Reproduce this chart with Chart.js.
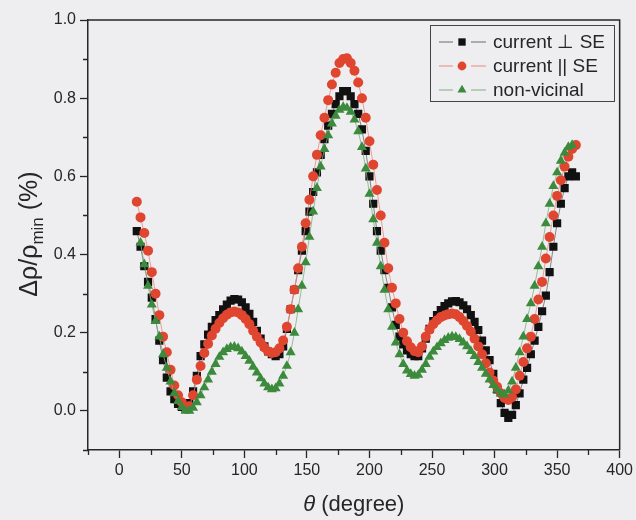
<!DOCTYPE html>
<html>
<head>
<meta charset="utf-8">
<script src="https://cdn.jsdelivr.net/npm/chart.js@4/dist/chart.umd.min.js"></script>
<style>
  html, body { margin: 0; padding: 0; background: #eeeef1; }
  #wrap { width: 636px; height: 520px; position: relative; }
</style>
</head>
<body>
<div id="wrap"><canvas id="c" width="636" height="520"></canvas></div>
<script>
// Rotation angle of the magnetic field (degree)
const theta = [
  14, 17, 20, 23, 26, 29, 32, 35, 38, 41,
  44, 47, 50, 53, 56, 59, 62, 65, 68, 71,
  74, 77, 80, 83, 86, 89, 92, 95, 98, 101,
  104, 107, 110, 113, 116, 119, 122, 125, 128, 131,
  134, 137, 140, 143, 146, 149, 152, 155, 158, 161,
  164, 167, 170, 173, 176, 179, 182, 185, 188, 191,
  194, 197, 200, 203, 206, 209, 212, 215, 218, 221,
  224, 227, 230, 233, 236, 239, 242, 245, 248, 251,
  254, 257, 260, 263, 266, 269, 272, 275, 278, 281,
  284, 287, 290, 293, 296, 299, 302, 305, 308, 311,
  314, 317, 320, 323, 326, 329, 332, 335, 338, 341,
  344, 347, 350, 353, 356, 359, 362, 365
];

// Δρ/ρmin (%) — current perpendicular to the step edges
const perpSE = [
  0.46, 0.42, 0.37, 0.33, 0.29, 0.235, 0.18, 0.13, 0.085, 0.05,
  0.03, 0.018, 0.01, 0.005, 0.02, 0.05, 0.09, 0.14, 0.17, 0.195,
  0.215, 0.232, 0.245, 0.26, 0.272, 0.282, 0.286, 0.285, 0.278, 0.265,
  0.248, 0.228, 0.205, 0.185, 0.165, 0.152, 0.145, 0.14, 0.145, 0.165,
  0.21, 0.26, 0.31, 0.36, 0.41, 0.46, 0.51, 0.56, 0.61, 0.655,
  0.695, 0.73, 0.76, 0.785, 0.805, 0.818, 0.818, 0.805, 0.785, 0.76,
  0.72, 0.665, 0.60, 0.53, 0.46, 0.41, 0.36, 0.315, 0.265, 0.22,
  0.19, 0.17, 0.155, 0.145, 0.14, 0.14, 0.16, 0.185, 0.21, 0.23,
  0.245, 0.258, 0.268, 0.275, 0.28, 0.281, 0.278, 0.27, 0.26, 0.245,
  0.228, 0.207, 0.18, 0.155, 0.13, 0.095, 0.055, 0.02, -0.005, -0.018,
  -0.01, 0.015, 0.045, 0.08, 0.11, 0.145, 0.18, 0.215, 0.255, 0.295,
  0.355, 0.42, 0.48, 0.53, 0.57, 0.60, 0.61, 0.60
];

// Δρ/ρmin (%) — current parallel to the step edges
const paraSE = [
  0.535, 0.495, 0.455, 0.41, 0.355, 0.30, 0.245, 0.19, 0.15, 0.105,
  0.065, 0.04, 0.022, 0.01, 0.012, 0.04, 0.08, 0.115, 0.148, 0.172,
  0.193, 0.21, 0.225, 0.237, 0.246, 0.252, 0.254, 0.252, 0.245, 0.235,
  0.222, 0.205, 0.19, 0.175, 0.162, 0.152, 0.148, 0.15, 0.16, 0.18,
  0.215, 0.26, 0.31, 0.365, 0.42, 0.48, 0.54, 0.60, 0.655, 0.705,
  0.75, 0.795, 0.835, 0.865, 0.89, 0.90, 0.902, 0.89, 0.87, 0.84,
  0.80, 0.75, 0.69, 0.63, 0.565, 0.50, 0.43, 0.365, 0.315, 0.275,
  0.235, 0.20, 0.178, 0.163, 0.153, 0.15, 0.165, 0.19, 0.208, 0.222,
  0.232, 0.24, 0.244, 0.247, 0.249, 0.247, 0.24, 0.23, 0.217, 0.203,
  0.185, 0.165, 0.145, 0.122, 0.098, 0.078, 0.062, 0.045, 0.033, 0.028,
  0.035, 0.055, 0.09, 0.125, 0.16, 0.19, 0.235, 0.285, 0.33, 0.39,
  0.445, 0.50, 0.55, 0.59, 0.625, 0.65, 0.67, 0.68
];

// Δρ/ρmin (%) — non-vicinal reference sample
const nonVicinal = [
  null, 0.43, 0.375, 0.32, 0.272, 0.23, 0.19, 0.145, 0.11, 0.075,
  0.045, 0.025, 0.01, 0.0, 0.0, 0.008, 0.022, 0.04, 0.06, 0.08,
  0.10, 0.12, 0.138, 0.15, 0.158, 0.163, 0.164, 0.16, 0.152, 0.14,
  0.128, 0.113, 0.098, 0.083, 0.07, 0.06, 0.055, 0.058, 0.07, 0.09,
  0.115, 0.15, 0.2, 0.26, 0.32, 0.38, 0.445, 0.51, 0.57, 0.625,
  0.67, 0.705, 0.735, 0.755, 0.77, 0.777, 0.775, 0.765, 0.745, 0.715,
  0.675, 0.62, 0.555, 0.49, 0.43, 0.37, 0.31, 0.26, 0.215, 0.175,
  0.145, 0.12, 0.103, 0.094, 0.09, 0.092, 0.105, 0.12, 0.138, 0.152,
  0.163, 0.173, 0.181, 0.187, 0.19, 0.189, 0.184, 0.175, 0.165, 0.153,
  0.14, 0.125, 0.11, 0.095, 0.08, 0.066, 0.054, 0.044, 0.042, 0.052,
  0.075, 0.11, 0.15, 0.19, 0.235, 0.275, 0.32, 0.37, 0.42, 0.48,
  0.53, 0.575, 0.61, 0.64, 0.66, 0.675, 0.68, null
];

const seriesLabels = ['current \u22A5 SE', 'current || SE', 'non-vicinal'];

const xMajorTicks = [0, 50, 100, 150, 200, 250, 300, 350, 400];
const xMinorTicks = [-25, 25, 75, 125, 175, 225, 275, 325, 375];
const yMajorTicks = [0.0, 0.2, 0.4, 0.6, 0.8, 1.0];
const yMinorTicks = [-0.1, 0.1, 0.3, 0.5, 0.7, 0.9];

const FONT = '"Liberation Sans", Arial, Helvetica, sans-serif';
const INK = '#262626';

function toPoints(values) {
  return theta.map((t, i) => ({ x: t, y: values[i] }));
}

// frame, minor ticks, legend box and axis titles
const decorations = {
  id: 'decorations',
  afterDraw(chart) {
    const ctx = chart.ctx;
    const a = chart.chartArea;
    const xs = chart.scales.x, ys = chart.scales.y;
    ctx.save();
    ctx.strokeStyle = INK;
    ctx.lineWidth = 1.5;
    // top and right edges of the frame
    ctx.beginPath();
    ctx.moveTo(a.left, a.top); ctx.lineTo(a.right, a.top); ctx.lineTo(a.right, a.bottom);
    ctx.stroke();
    // minor ticks
    ctx.lineWidth = 1.3;
    ctx.beginPath();
    xMinorTicks.forEach(v => {
      const px = Math.round(xs.getPixelForValue(v)) + 0.5;
      ctx.moveTo(px, a.bottom); ctx.lineTo(px, a.bottom + 5);
    });
    yMinorTicks.forEach(v => {
      const py = Math.round(ys.getPixelForValue(v)) + 0.5;
      ctx.moveTo(a.left - 5, py); ctx.lineTo(a.left, py);
    });
    ctx.stroke();

    // legend
    const box = { x: 430.5, y: 25.5, w: 184, h: 76 };
    ctx.lineWidth = 1;
    ctx.strokeStyle = '#444';
    ctx.strokeRect(box.x, box.y, box.w, box.h);
    const rowY = [42, 66, 90];
    chart.data.datasets.forEach((ds, i) => {
      const y = rowY[i];
      ctx.strokeStyle = ds.borderColor;
      ctx.lineWidth = 1;
      ctx.beginPath();
      ctx.moveTo(439, y); ctx.lineTo(453, y);
      ctx.moveTo(471, y); ctx.lineTo(486, y);
      ctx.stroke();
      ctx.fillStyle = ds.pointBackgroundColor;
      ctx.strokeStyle = ds.pointBackgroundColor;
      Chart.helpers.drawPoint(ctx, {
        pointStyle: ds.pointStyle, radius: ds.pointRadius - 0.6, rotation: 0, borderWidth: 0
      }, 462, y);
      ctx.fillStyle = INK;
      ctx.font = '19px ' + FONT;
      ctx.textAlign = 'left';
      ctx.textBaseline = 'middle';
      ctx.fillText(ds.label, 493, y + 1);
    });

    // x-axis title: θ (degree)
    ctx.fillStyle = INK;
    ctx.textBaseline = 'alphabetic';
    ctx.textAlign = 'left';
    const xt1 = '\u03B8', xt2 = ' (degree)';
    ctx.font = 'italic 22px ' + FONT;
    const w1 = ctx.measureText(xt1).width;
    ctx.font = '22px ' + FONT;
    const w2 = ctx.measureText(xt2).width;
    const cx = (a.left + a.right) / 2;
    let x0 = cx - (w1 + w2) / 2;
    ctx.font = 'italic 22px ' + FONT;
    ctx.fillText(xt1, x0, 511);
    ctx.font = '22px ' + FONT;
    ctx.fillText(xt2, x0 + w1, 511);

    // y-axis title: Δρ/ρmin (%)
    const p1 = '\u0394\u03C1/\u03C1', sub = 'min', p3 = ' (%)';
    ctx.font = '25px ' + FONT;
    const m1 = ctx.measureText(p1).width, m3 = ctx.measureText(p3).width;
    ctx.font = '17px ' + FONT;
    const m2 = ctx.measureText(sub).width;
    const total = m1 + m2 + m3;
    ctx.translate(37, 234);
    ctx.rotate(-Math.PI / 2);
    let s = -total / 2;
    ctx.font = '25px ' + FONT;
    ctx.fillText(p1, s, 0);
    ctx.font = '17px ' + FONT;
    ctx.fillText(sub, s + m1, 6);
    ctx.font = '25px ' + FONT;
    ctx.fillText(p3, s + m1 + m2, 0);
    ctx.restore();
  }
};

const tickFont = { family: FONT, size: 16 };

new Chart(document.getElementById('c'), {
  type: 'line',
  data: {
    datasets: [
      {
        label: seriesLabels[0],
        data: toPoints(perpSE),
        borderColor: '#6a6a6a',
        borderWidth: 0.8,
        pointStyle: 'rect',
        pointRadius: 5.8,
        pointBorderWidth: 0,
        pointBackgroundColor: '#111111',
        pointBorderColor: '#111111',
        order: 3
      },
      {
        label: seriesLabels[1],
        data: toPoints(paraSE),
        borderColor: '#e58a7c',
        borderWidth: 0.8,
        pointStyle: 'circle',
        pointRadius: 5,
        pointBorderWidth: 0,
        pointBackgroundColor: '#e0462f',
        pointBorderColor: '#e0462f',
        order: 2
      },
      {
        label: seriesLabels[2],
        data: toPoints(nonVicinal),
        borderColor: '#7fae7f',
        borderWidth: 0.8,
        pointStyle: 'triangle',
        pointRadius: 5.8,
        pointBorderWidth: 0,
        pointBackgroundColor: '#3c8a3c',
        pointBorderColor: '#3c8a3c',
        order: 1
      }
    ]
  },
  options: {
    responsive: false,
    animation: false,
    events: [],
    layout: { padding: { top: 20, right: 14, left: 0, bottom: 0 } },
    plugins: { legend: { display: false }, tooltip: { enabled: false } },
    scales: {
      x: {
        type: 'linear',
        min: -25,
        max: 400,
        afterBuildTicks: ax => { ax.ticks = xMajorTicks.map(v => ({ value: v })); },
        afterFit: ax => { ax.height = 70; },
        ticks: { font: tickFont, color: INK, padding: 3, maxRotation: 0, autoSkip: false,
                 callback: v => String(v) },
        grid: { drawOnChartArea: false, drawTicks: true, tickLength: 8, tickColor: INK, tickWidth: 1.3 },
        border: { display: true, color: INK, width: 1.5 }
      },
      y: {
        type: 'linear',
        min: -0.1,
        max: 1.0,
        afterBuildTicks: ax => { ax.ticks = yMajorTicks.map(v => ({ value: v })); },
        afterFit: ax => { ax.width = 88; },
        ticks: { font: tickFont, color: INK, padding: 4, autoSkip: false,
                 callback: v => Number(v).toFixed(1) },
        grid: { drawOnChartArea: false, drawTicks: true, tickLength: 8, tickColor: INK, tickWidth: 1.3 },
        border: { display: true, color: INK, width: 1.5 }
      }
    }
  },
  plugins: [decorations]
});
</script>
</body>
</html>
